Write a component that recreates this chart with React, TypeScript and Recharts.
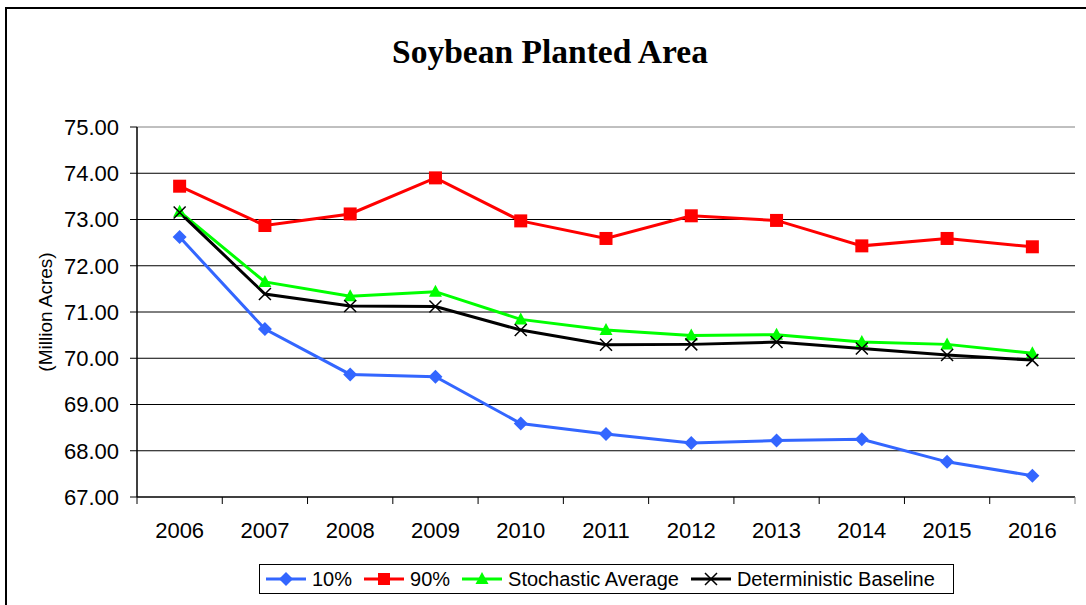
import {
  LineChart,
  Line,
  XAxis,
  YAxis,
  CartesianGrid,
  ReferenceLine,
} from "recharts";

const YEARS = ["2006", "2007", "2008", "2009", "2010", "2011", "2012", "2013", "2014", "2015", "2016"];
const P10 = [72.62, 70.63, 69.65, 69.6, 68.59, 68.36, 68.17, 68.22, 68.25, 67.76, 67.46];
const P90 = [73.72, 72.87, 73.12, 73.9, 72.97, 72.59, 73.08, 72.98, 72.43, 72.59, 72.41];
const STOCH_AVG = [73.17, 71.65, 71.34, 71.44, 70.84, 70.61, 70.49, 70.51, 70.35, 70.3, 70.11];
const DET_BASE = [73.15, 71.39, 71.13, 71.12, 70.61, 70.29, 70.3, 70.35, 70.21, 70.07, 69.96];
const Y_TICKS = [67, 68, 69, 70, 71, 72, 73, 74, 75];

const data = YEARS.map((year, i) => ({
  year,
  p10: P10[i],
  p90: P90[i],
  avg: STOCH_AVG[i],
  base: DET_BASE[i],
}));

const FONT = '"Liberation Sans", Arial, sans-serif';
const W = 1086;
const H = 605;
const MARGIN = { top: 127, right: 11, bottom: 68, left: 0 };
const Y_AXIS_W = 137;
const BAND = (W - MARGIN.left - Y_AXIS_W - MARGIN.right) / YEARS.length;

const BLUE = "#3366ff";
const RED = "#ff0000";
const GREEN = "#00ff00";

const diamond = (p: any) => (
  <path
    key={`d${p.index}`}
    d={`M${p.cx},${p.cy - 7} L${p.cx + 7},${p.cy} L${p.cx},${p.cy + 7} L${p.cx - 7},${p.cy} Z`}
    fill={BLUE}
  />
);
const square = (p: any) => (
  <rect key={`s${p.index}`} x={p.cx - 6.5} y={p.cy - 6.5} width={13} height={13} fill={RED} />
);
const triangle = (p: any) => (
  <path
    key={`t${p.index}`}
    d={`M${p.cx},${p.cy - 7} L${p.cx + 6.5},${p.cy + 5} L${p.cx - 6.5},${p.cy + 5} Z`}
    fill={GREEN}
  />
);
const cross = (p: any) => (
  <path
    key={`x${p.index}`}
    d={`M${p.cx - 6},${p.cy - 6} L${p.cx + 6},${p.cy + 6} M${p.cx - 6},${p.cy + 6} L${p.cx + 6},${p.cy - 6}`}
    stroke="#000"
    strokeWidth={1.5}
    fill="none"
  />
);

function YearTick(props: any) {
  const { x, y, payload, index } = props;
  const last = index === YEARS.length - 1;
  return (
    <g>
      <line x1={x - BAND / 2} x2={x - BAND / 2} y1={y} y2={y + 7} stroke="#000" strokeWidth={1} />
      {last && <line x1={x + BAND / 2} x2={x + BAND / 2} y1={y} y2={y + 7} stroke="#808080" strokeWidth={1} />}
      <text x={x} y={y + 41} textAnchor="middle" fontSize={22} fontFamily={FONT} fill="#000">
        {payload.value}
      </text>
    </g>
  );
}

function AxisTitle(props: any) {
  const vb = props.viewBox;
  const cy = vb.y + vb.height / 2;
  return (
    <text
      transform={`translate(45, ${cy}) rotate(-90)`}
      textAnchor="middle"
      dominantBaseline="central"
      fontSize={19}
      fontFamily={FONT}
      fill="#000"
    >
      (Million Acres)
    </text>
  );
}

function LegendIcon({ color, mark }: { color: string; mark: string }) {
  return (
    <svg width={40} height={20} style={{ display: "block" }}>
      <line x1={0} x2={40} y1={10} y2={10} stroke={color} strokeWidth={3} />
      {mark === "diamond" && <path d="M20,3 L27,10 L20,17 L13,10 Z" fill={color} />}
      {mark === "square" && <rect x={14} y={4} width={12} height={12} fill={color} />}
      {mark === "triangle" && <path d="M20,3 L26.5,15 L13.5,15 Z" fill={color} />}
      {mark === "cross" && (
        <path d="M14,4 L26,16 M14,16 L26,4" stroke="#000" strokeWidth={1.5} fill="none" />
      )}
    </svg>
  );
}

const LEGEND = [
  { label: "10%", color: BLUE, mark: "diamond" },
  { label: "90%", color: RED, mark: "square" },
  { label: "Stochastic Average", color: GREEN, mark: "triangle" },
  { label: "Deterministic Baseline", color: "#000", mark: "cross" },
];

export default function App() {
  return (
    <div style={{ position: "absolute", left: 0, top: 0, width: W, height: H, overflow: "hidden", background: "#fff" }}>
      <div
        style={{
          position: "absolute",
          left: 5,
          top: 7,
          width: 1200,
          height: 800,
          borderLeft: "2px solid #000",
          borderTop: "2px solid #000",
        }}
      />
      <div
        style={{
          position: "absolute",
          left: 0,
          top: 35,
          width: 1100,
          textAlign: "center",
          fontFamily: '"Liberation Serif", "Times New Roman", serif',
          fontWeight: "bold",
          fontSize: 33.5,
          lineHeight: "34px",
        }}
      >
        Soybean Planted Area
      </div>
      <div style={{ position: "absolute", left: 0, top: 0 }}>
        <LineChart width={W} height={H} data={data} margin={MARGIN}>
          <CartesianGrid
            horizontal
            vertical={false}
            horizontalValues={[68, 69, 70, 71, 72, 73, 74]}
            stroke="#000"
            strokeWidth={1}
          />
          <ReferenceLine y={75} stroke="#808080" strokeWidth={1} />
          <XAxis
            dataKey="year"
            interval={0}
            height={40}
            padding={{ left: BAND / 2, right: BAND / 2 }}
            tickSize={0}
            tickMargin={0}
            tickLine={false}
            axisLine={{ stroke: "#000", strokeWidth: 1.5 }}
            tick={<YearTick />}
          />
          <YAxis
            domain={[67, 75]}
            ticks={Y_TICKS}
            width={Y_AXIS_W}
            tickSize={7}
            tickMargin={11}
            tickFormatter={(v: number) => v.toFixed(2)}
            tick={{ fontSize: 22, fontFamily: FONT, fill: "#000" }}
            tickLine={{ stroke: "#000" }}
            axisLine={{ stroke: "#000", strokeWidth: 1.5 }}
            label={<AxisTitle />}
          />
          <YAxis
            yAxisId="right"
            orientation="right"
            width={0}
            tick={false}
            tickLine={false}
            axisLine={{ stroke: "#808080", strokeWidth: 1.5 }}
          />
          <Line dataKey="p10" stroke={BLUE} strokeWidth={3} dot={diamond} isAnimationActive={false} />
          <Line dataKey="p90" stroke={RED} strokeWidth={3} dot={square} isAnimationActive={false} />
          <Line dataKey="avg" stroke={GREEN} strokeWidth={3} dot={triangle} isAnimationActive={false} />
          <Line dataKey="base" stroke="#000" strokeWidth={3} dot={cross} isAnimationActive={false} />
        </LineChart>
      </div>
      <div
        style={{
          position: "absolute",
          left: 259,
          top: 564,
          width: 695,
          height: 30,
          boxSizing: "border-box",
          border: "1px solid #000",
          background: "#fff",
          display: "flex",
          alignItems: "center",
          paddingLeft: 6,
          gap: 12,
          fontFamily: FONT,
          fontSize: 20,
        }}
      >
        {LEGEND.map((l) => (
          <div key={l.label} style={{ display: "flex", alignItems: "center" }}>
            <LegendIcon color={l.color} mark={l.mark} />
            <span style={{ marginLeft: 6, whiteSpace: "nowrap" }}>{l.label}</span>
          </div>
        ))}
      </div>
    </div>
  );
}
